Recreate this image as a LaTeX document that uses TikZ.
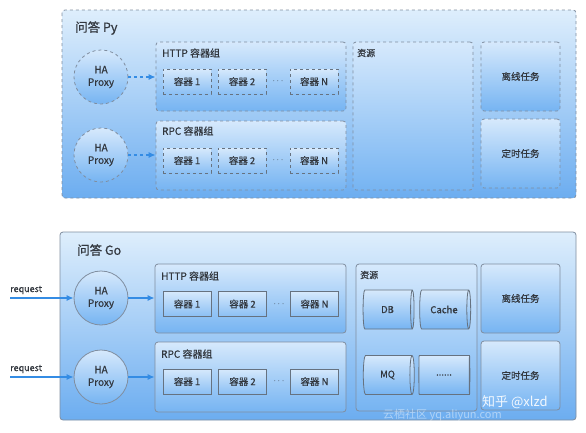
\documentclass[tikz,border=0pt]{standalone}
\usepackage{fontspec}
\setmainfont{Noto Sans CJK SC}[FakeBold=0.5]
\newfontfamily\plainfont{Noto Sans CJK SC}
\usetikzlibrary{shapes.geometric,arrows.meta}
\definecolor{ptop}{RGB}{222,238,252}
\definecolor{pbot}{RGB}{108,173,240}
\definecolor{btop}{RGB}{214,233,252}
\definecolor{bbot}{RGB}{118,180,242}
\definecolor{bord}{RGB}{128,142,160}
\definecolor{txt}{RGB}{50,55,62}
\definecolor{arr}{RGB}{52,140,228}
\tikzset{
  panel/.style={draw=bord, line width=0.8pt, rounded corners=3pt, top color=ptop, bottom color=pbot},
  grp/.style={draw=bord, line width=0.8pt, rounded corners=3pt, top color=btop, bottom color=bbot, inner sep=0pt},
  cont/.style={draw=bord!80!black, line width=0.9pt, top color=btop, bottom color=bbot!85, minimum width=48pt, minimum height=25pt, inner sep=0pt, font=\fontsize{9.5}{10}\selectfont, text=txt},
  proxy/.style={circle, draw=bord, line width=0.8pt, top color=btop, bottom color=bbot, minimum size=54pt, inner sep=0pt, align=center, font=\fontsize{10}{12.5}\selectfont, text=txt},
  task/.style={grp, font=\fontsize{9.5}{11}\selectfont, text=txt},
  lbl/.style={anchor=west, font=\fontsize{10}{11}\selectfont, text=txt, inner sep=0pt},
  ttl/.style={anchor=west, font=\fontsize{12.5}{14}\selectfont, text=txt, inner sep=0pt},
  cyl/.style={cylinder, draw=bord!80!black, line width=0.8pt, top color=btop, bottom color=bbot, minimum width=39pt, minimum height=51pt, aspect=0.5, inner sep=0pt, font=\fontsize{9.5}{10}\selectfont, text=txt, shape border rotate=0},
  flow/.style={draw=arr, line width=1.2pt, -{Latex[length=7pt,width=6pt]}},
  dots/.style={text=txt, font=\fontsize{9}{10}\selectfont, inner sep=0pt},
}
\begin{document}
\begin{tikzpicture}[x=1pt,y=-1pt]
\useasboundingbox (0,0) rectangle (586,432);
\fill[white] (0,0) rectangle (586,432);

% ---------- 问答 Py ----------
\path[panel, dashed] (62,10) rectangle (576,198);
\node[ttl] (tpy) at (75,28) {问答 Py};

\node[proxy, dashed] (hpy1) at (101,77) {HA\\Proxy};
\node[proxy, dashed] (hpy2) at (101,155) {HA\\Proxy};

\node[grp, dashed, minimum width=190pt, minimum height=69pt] (httppy) at (251,76.5) {};
\node[lbl] (lhttppy) at (162,53) {HTTP 容器组};
\node[cont, dashed] (pa1) at (187,81.5) {容器 1};
\node[cont, dashed] (pa2) at (242,81.5) {容器 2};
\node[dots] (pad) at (278,81.5) {$\cdots$};
\node[cont, dashed] (pan) at (314,81.5) {容器 N};

\node[grp, dashed, minimum width=190pt, minimum height=69pt] (rpcpy) at (251,155.5) {};
\node[lbl] (lrpcpy) at (162,131) {RPC 容器组};
\node[cont, dashed] (pb1) at (187,160.5) {容器 1};
\node[cont, dashed] (pb2) at (242,160.5) {容器 2};
\node[dots] (pbd) at (278,160.5) {$\cdots$};
\node[cont, dashed] (pbn) at (314,160.5) {容器 N};

\node[grp, dashed, minimum width=120pt, minimum height=148pt] (respy) at (413,116) {};
\node[lbl, font=\fontsize{9}{10}\selectfont] (lrespy) at (357,53) {资源};

\node[task, dashed, minimum width=79pt, minimum height=69pt] (offpy) at (520.5,76.5) {离线任务};
\node[task, dashed, minimum width=79pt, minimum height=69pt] (timepy) at (520.5,153.5) {定时任务};

\draw[flow, dashed] (hpy1.east) -- (hpy1.east -| httppy.west);
\draw[flow, dashed] (hpy2.east) -- (hpy2.east -| rpcpy.west);

% ---------- 问答 Go ----------
\path[panel] (60,232) rectangle (576,420);
\node[ttl] (tgo) at (77,250) {问答 Go};

\node[proxy] (hgo1) at (101,298) {HA\\Proxy};
\node[proxy] (hgo2) at (101,377) {HA\\Proxy};

\node[grp, minimum width=191pt, minimum height=69pt] (httpgo) at (250.5,298.5) {};
\node[lbl] (lhttpgo) at (161,276) {HTTP 容器组};
\node[cont] (ga1) at (187,304) {容器 1};
\node[cont] (ga2) at (242.5,304) {容器 2};
\node[dots] (gad) at (279,304) {$\cdots$};
\node[cont] (gan) at (314.5,304) {容器 N};

\node[grp, minimum width=191pt, minimum height=70pt] (rpcgo) at (250.5,377) {};
\node[lbl] (lrpcgo) at (161,354) {RPC 容器组};
\node[cont] (gb1) at (187,381.5) {容器 1};
\node[cont] (gb2) at (242.5,381.5) {容器 2};
\node[dots] (gbd) at (279,381.5) {$\cdots$};
\node[cont] (gbn) at (314.5,381.5) {容器 N};

\node[grp, minimum width=121pt, minimum height=147pt] (resgo) at (416.5,337.5) {};
\node[lbl, font=\fontsize{9}{10}\selectfont] (lresgo) at (360,275) {资源};
\node[cyl] (db) at (387.5,309.5) {DB};
\node[cyl] (cache) at (444,309.5) {Cache};
\node[cyl] (mq) at (387.5,375) {MQ};
\node[cyl] (more) at (444,375) {......};

\node[task, minimum width=79pt, minimum height=69pt] (offgo) at (520.5,298.5) {离线任务};
\node[task, minimum width=79pt, minimum height=69pt] (timego) at (520.5,375.5) {定时任务};

\coordinate (r1) at (10,298);
\coordinate (r2) at (10,377);
\node[lbl, font=\fontsize{9}{10}\selectfont] (lr1) at (10,290) {request};
\node[lbl, font=\fontsize{9}{10}\selectfont] (lr2) at (10,369) {request};
\draw[flow] (r1) -- (hgo1.west);
\draw[flow] (r2) -- (hgo2.west);
\draw[flow] (hgo1.east) -- (hgo1.east -| httpgo.west);
\draw[flow] (hgo2.east) -- (hgo2.east -| rpcgo.west);

% watermarks
\node[anchor=west, text=white, opacity=0.45, font=\plainfont\fontsize{11}{12}\selectfont, inner sep=0pt] (wm1) at (383,415) {云栖社区 yq.aliyun.com};
\node[anchor=west, text=white, opacity=0.9, font=\plainfont\fontsize{13}{14}\selectfont, inner sep=0pt] (wm2) at (482,402) {知乎 @xlzd};
\end{tikzpicture}
\end{document}
